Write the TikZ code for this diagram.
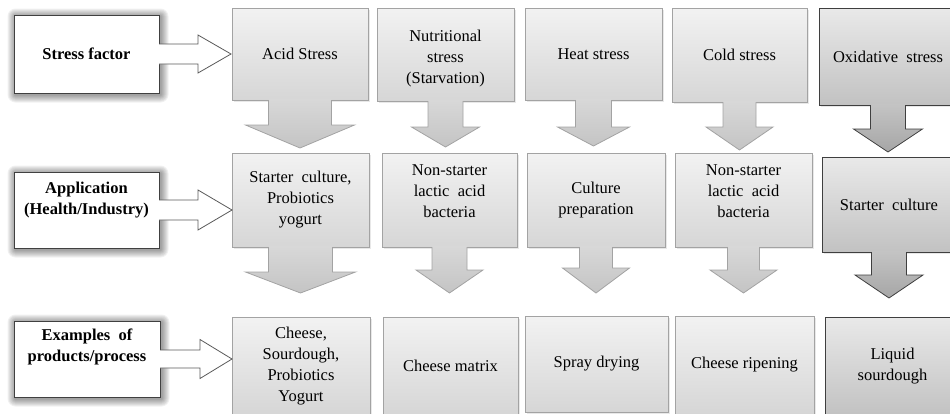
\documentclass[tikz,border=0pt]{standalone}
\usepackage{fontspec}
\setmainfont{Liberation Serif}
\usetikzlibrary{shadows,backgrounds,calc}
\definecolor{bordgray}{HTML}{A3A3A3}
\definecolor{darkbord}{HTML}{3F3F3F}
\definecolor{boxtop}{HTML}{F2F2F2}
\definecolor{boxbot}{HTML}{D6D6D6}
\definecolor{darktop}{HTML}{E9E9E9}
\definecolor{darkbot}{HTML}{C2C2C2}
\definecolor{arrtop}{HTML}{D8D8D8}
\definecolor{arrbot}{HTML}{C4C4C4}
\definecolor{darrtop}{HTML}{C4C4C4}
\definecolor{darrbot}{HTML}{A6A6A6}
\definecolor{labbord}{HTML}{404040}
\definecolor{harrline}{HTML}{5A5A5A}
\tikzset{
  boxfont/.style={font=\fontsize{16.5}{21}\selectfont},
  gbox/.style={draw=bordgray,line width=0.8pt,top color=boxtop,bottom color=boxbot,
    inner sep=2pt,outer sep=0pt,anchor=north west,align=center,boxfont,
    drop shadow={shadow xshift=2pt,shadow yshift=-2pt,opacity=0.18}},
  dbox/.style={gbox,draw=darkbord,top color=darktop,bottom color=darkbot},
  lbox/.style={draw=labbord,line width=0.9pt,fill=white,inner sep=2pt,outer sep=0pt,
    anchor=north west,align=center,font=\bfseries\fontsize{16.5}{21}\selectfont},
  ltxt/.style={align=center,inner sep=0pt,font=\bfseries\fontsize{16.5}{21}\selectfont},
  gtxt/.style={align=center,inner sep=0pt,boxfont},
  garr/.style={top color=arrtop,bottom color=arrbot},
  garrl/.style={draw=bordgray,line width=0.8pt,line join=miter},
  darr/.style={top color=darrtop,bottom color=darrbot},
  darrl/.style={draw=darkbord,line width=0.8pt,line join=miter},
  harr/.style={draw=harrline,line width=0.8pt,line join=miter}
}
% node, shaft half width, head half width, shaft length, head length, fill style, line style
\newcommand\blockdown[7]{%
  \path[#6] (#1.south) ++(-#2,-1) -- ++(0,#4+1) -- ++({-(#3-#2)},0) -- ++(#3,#5)
     -- ++(#3,-#5) -- ++({-(#3-#2)},0) -- ++(0,{-(#4+1)}) -- cycle;
  \draw[#7] (#1.south) ++(-#2,0) -- ++(0,#4) -- ++({-(#3-#2)},0) -- ++(#3,#5)
     -- ++(#3,-#5) -- ++({-(#3-#2)},0) -- ++(0,-#4);
}
% node, shaft half width, head half width, shaft length, head length
\newcommand\blockright[5]{%
  \fill[white] (#1.east) ++(-1,-#2) -- ++(#4+1,0) -- ++(0,{-(#3-#2)}) -- ++(#5,#3)
     -- ++(-#5,#3) -- ++(0,{-(#3-#2)}) -- ++({-(#4+1)},0) -- cycle;
  \draw[harr] (#1.east) ++(0,-#2) -- ++(#4,0) -- ++(0,{-(#3-#2)}) -- ++(#5,#3)
     -- ++(-#5,#3) -- ++(0,{-(#3-#2)}) -- ++(-#4,0);
}
\begin{document}
\begin{tikzpicture}[x=1pt,y=-1pt]
\useasboundingbox (0,0) rectangle (950,413);
\clip (0,0) rectangle (950,413);

% row labels
\node[lbox,minimum width=145pt,minimum height=78pt] (lab1) at (14,15) {Stress factor};
\node[lbox,minimum width=145pt,minimum height=76pt,
  label={[name=lab2t,ltxt,yshift=10pt]center:Application\\(Health/Industry)}] (lab2) at (14,172) {};
\node[lbox,minimum width=146pt,minimum height=76pt,
  label={[name=lab3t,ltxt,yshift=12pt]center:Examples~~of\\products/process}] (lab3) at (14,321) {};

% row 1
\node[gbox,minimum width=136pt,minimum height=92pt] (s1) at (232,8) {Acid Stress};
\node[gbox,minimum width=137pt,minimum height=93pt,
  label={[name=s2t,gtxt,yshift=-4pt]center:Nutritional\\stress\\(Starvation)}] (s2) at (377,8) {};
\node[gbox,minimum width=137pt,minimum height=92pt] (s3) at (525,8) {Heat stress};
\node[gbox,minimum width=135pt,minimum height=94pt] (s4) at (672,8) {Cold stress};
\node[dbox,minimum width=138pt,minimum height=97pt] (s5) at (819,8) {Oxidative~~stress};

% row 2
\node[gbox,minimum width=137pt,minimum height=94pt] (a1) at (232,153) {Starter~~culture,\\Probiotics\\yogurt};
\node[gbox,minimum width=135pt,minimum height=94pt,
  label={[name=a2t,gtxt,yshift=9pt]center:Non-starter\\lactic~~acid\\bacteria}] (a2) at (382,153) {};
\node[gbox,minimum width=138pt,minimum height=94pt] (a3) at (527,153) {Culture\\preparation};
\node[gbox,minimum width=137pt,minimum height=94pt,
  label={[name=a4t,gtxt,yshift=9pt]center:Non-starter\\lactic~~acid\\bacteria}] (a4) at (675,153) {};
\node[dbox,minimum width=134pt,minimum height=95pt] (a5) at (822,157) {Starter~~culture};

% row 3
\node[gbox,minimum width=138pt,minimum height=98pt] (p1) at (232,317) {Cheese,\\Sourdough,\\Probiotics\\Yogurt};
\node[gbox,minimum width=135pt,minimum height=98pt] (p2) at (383,317) {Cheese matrix};
\node[gbox,minimum width=143pt,minimum height=96pt] (p3) at (525,316) {Spray drying};
\node[gbox,minimum width=139pt,minimum height=98pt] (p4) at (675,316) {Cheese ripening};
\node[dbox,minimum width=135pt,minimum height=98pt] (p5) at (825,317) {Liquid\\sourdough};

% down arrows
\blockdown{s1}{31.5}{54.5}{25}{23}{garr}{garrl}
\blockdown{s2}{17.5}{34}{26}{20}{garr}{garrl}
\blockdown{s3}{18}{36}{27}{19}{garr}{garrl}
\blockdown{s4}{16.5}{33.5}{25}{23}{garr}{garrl}
\blockdown{s5}{17.5}{34.5}{24}{23}{darr}{darrl}
\blockdown{a1}{32}{55}{25}{21}{garr}{garrl}
\blockdown{a2}{17.5}{33.5}{23}{23}{garr}{garrl}
\blockdown{a3}{16.5}{33.5}{21}{25}{garr}{garrl}
\blockdown{a4}{16}{33.5}{23}{23}{garr}{garrl}
\blockdown{a5}{17.5}{34}{23}{23}{darr}{darrl}

% right arrows from the row labels
\blockright{lab1}{10}{19}{39}{33}
\blockright{lab2}{10}{20}{39}{34}
\blockright{lab3}{9}{19.5}{40}{32}

% soft halo behind the row labels
\begin{scope}[on background layer]
  \foreach \n in {lab1,lab2,lab3}{
    \foreach \i in {1,...,8}{
      \fill[black,opacity=0.055,rounded corners=\i pt]
        ($(\n.north west)+(1.5-\i,1.5-\i)$) rectangle ($(\n.south east)+(1.5+\i,1.5+\i)$);
    }
  }
\end{scope}
\end{tikzpicture}
\end{document}
